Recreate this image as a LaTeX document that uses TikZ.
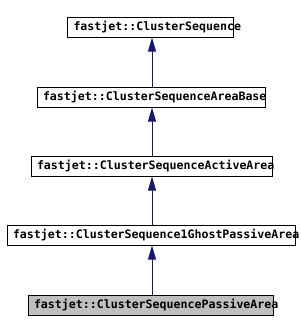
\documentclass[tikz,border=0pt]{standalone}
\usepackage{fontspec}
\setmonofont{DejaVu Sans Mono}
\usetikzlibrary{arrows.meta}
\definecolor{edgeblue}{RGB}{25,25,112}
\begin{document}
\begin{tikzpicture}
  [x=0.75pt,y=-0.75pt,
   every node/.style={draw=black,line width=0.75pt,minimum height=15pt,inner xsep=4.5pt,inner ysep=0pt,
     align=left,font=\ttfamily\bfseries\fontsize{8.7}{10}\selectfont},
   inherit/.style={edgeblue,line width=0.75pt,-{Triangle[length=10.5pt,width=6pt]}}]
  \useasboundingbox (0,0) rectangle (300,332);
  \node (n1) at (150.5,27) [text width=115.5pt] {fastjet::ClusterSequence};
  \node (n2) at (151,97) [text width=162pt] {fastjet::ClusterSequenceAreaBase};
  \node (n3) at (151.5,166) [text width=171.75pt] {fastjet::ClusterSequenceActiveArea};
  \node (n4) at (151,235) [text width=207pt] {fastjet::ClusterSequence1GhostPassiveArea};
  \node (n5) at (150.5,305) [text width=174.75pt,fill=black!25] {fastjet::ClusterSequencePassiveArea};

  \foreach \from/\to in {n2/n1, n3/n2, n4/n3, n5/n4}
    \draw[inherit] (\from.north -| 152,0) -- (\to.south -| 152,0);

\end{tikzpicture}
\end{document}
